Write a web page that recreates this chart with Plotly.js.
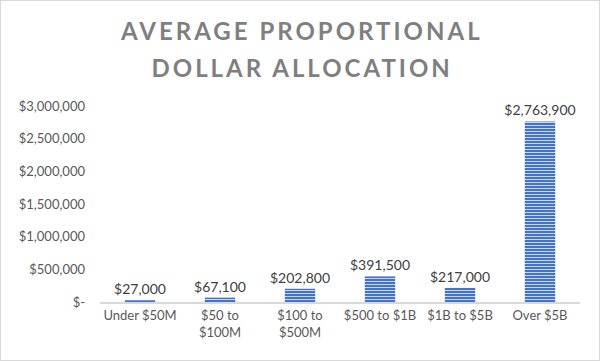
<!DOCTYPE html>
<html>
<head>
<meta charset="utf-8">
<script src="https://cdn.plot.ly/plotly-3.0.1.min.js"></script>
<style>
html,body{margin:0;padding:0;background:#fff;}
#chart{width:598px;height:359px;border:1px solid #d9d9d9;}
#chart .annotation-text{letter-spacing:3px;}
</style>
</head>
<body>
<div id="chart"></div>
<script>
const categories = ["Under $50M", "$50 to<br>$100M", "$100 to<br>$500M", "$500 to $1B", "$1B to $5B", "Over $5B"];
const values = [27000, 67100, 202800, 391500, 217000, 2763900];
const yTickVals = [0, 500000, 1000000, 1500000, 2000000, 2500000, 3000000];
const yTickText = ["$-", "$500,000", "$1,000,000", "$1,500,000", "$2,000,000", "$2,500,000", "$3,000,000"];
const titleLines = ["AVERAGE PROPORTIONAL", "DOLLAR ALLOCATION"];

const FONT = "Lato, 'Open Sans', sans-serif";

const trace = {
  type: "bar",
  x: categories,
  y: values,
  width: 0.38,
  marker: {
    color: "#4472c4",
    line: {width: 0},
    pattern: {shape: "-", fgcolor: "#c9d6ef", bgcolor: "#4472c4", size: 3, solidity: 0.35}
  },
  texttemplate: "$%{y:,.0f}",
  textposition: "outside",
  constraintext: "none",
  cliponaxis: false,
  textfont: {family: FONT, size: 14, color: "#404040"},
  hoverinfo: "none"
};

const titleFont = {family: FONT, size: 24, color: "#7f7f7f", weight: "bold"};

const layout = {
  width: 598, height: 359,
  margin: {l: 99, r: 19, t: 105, b: 58},
  paper_bgcolor: "#fff",
  plot_bgcolor: "#fff",
  showlegend: false,
  annotations: [
    {text: titleLines[0], xref: "paper", yref: "paper", x: 0.42, y: 1.383, xanchor: "center", yanchor: "middle", showarrow: false, font: titleFont},
    {text: titleLines[1], xref: "paper", yref: "paper", x: 0.42, y: 1.194, xanchor: "center", yanchor: "middle", showarrow: false, font: titleFont}
  ],
  xaxis: {
    type: "category",
    showline: true, linecolor: "#d9d9d9", linewidth: 2,
    ticks: "", showgrid: false, zeroline: false,
    tickfont: {family: FONT, size: 13, color: "#595959"}
  },
  yaxis: {
    range: [0, 3000000],
    tickvals: yTickVals, ticktext: yTickText,
    showgrid: false, zeroline: false, showline: false, ticks: "",
    ticklabelstandoff: 14,
    tickfont: {family: FONT, size: 13, color: "#595959"}
  }
};

Plotly.newPlot("chart", [trace], layout, {staticPlot: true, displayModeBar: false});
</script>
</body>
</html>
